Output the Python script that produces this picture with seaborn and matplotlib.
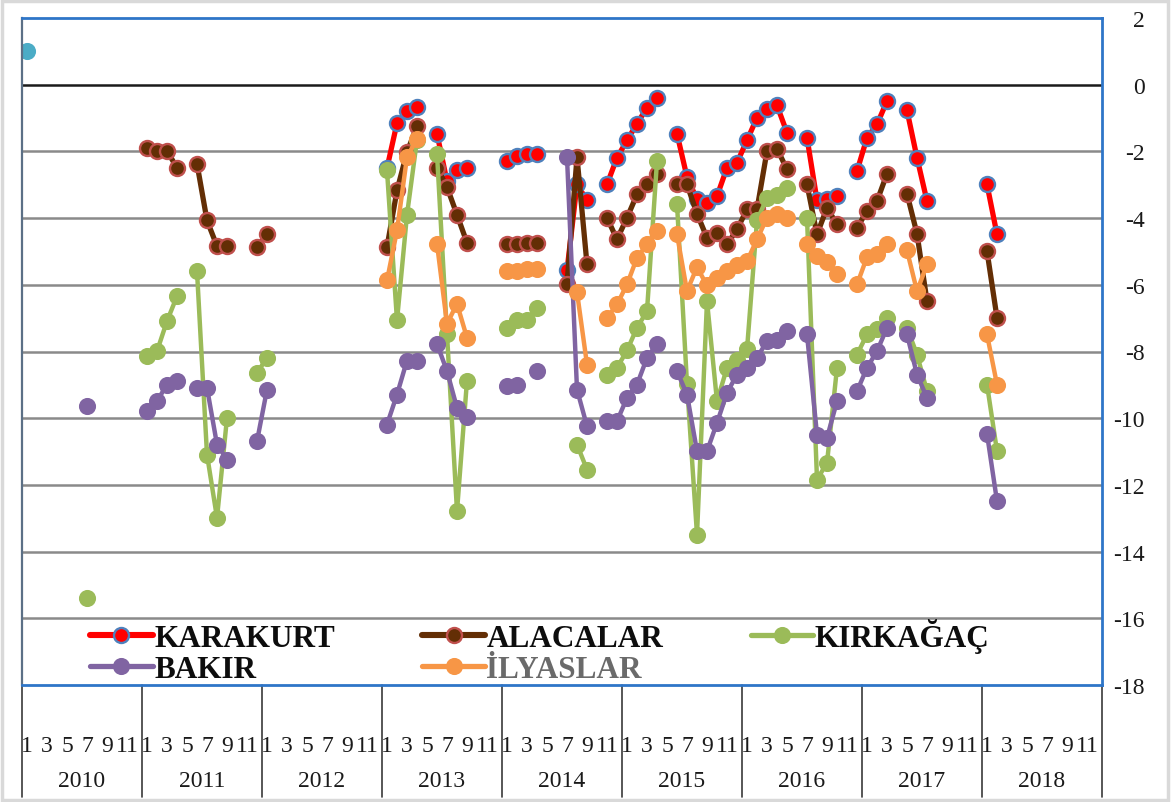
import numpy as np
import pandas as pd
import matplotlib
matplotlib.use("Agg")
import matplotlib.pyplot as plt
from matplotlib.lines import Line2D
from matplotlib.patches import Rectangle
from matplotlib.font_manager import FontProperties
import seaborn as sns

N = None

# Monthly series, 2010-2018 (12 values per year, None = no measurement)
years = [2010, 2011, 2012, 2013, 2014, 2015, 2016, 2017, 2018]
month_labels = ["1", "3", "5", "7", "9", "11"]

karakurt = [
    N, N, N, N, N, N, N, N, N, N, N, N,                                        # 2010
    N, N, N, N, N, N, N, N, N, N, N, N,                                        # 2011
    N, N, N, N, N, N, N, N, N, N, N, N,                                        # 2012
    -2.50, -1.15, -0.79, -0.67, N, -1.47, -2.90, -2.57, -2.49, N, N, N,        # 2013
    -2.29, -2.14, -2.07, -2.07, N, N, -5.57, -2.99, -3.47, N, -2.99, -2.19,    # 2014
    -1.67, -1.17, -0.69, -0.39, N, -1.47, -2.77, -3.44, -3.54, -3.34, -2.49, -2.34,  # 2015
    -1.67, -0.99, -0.74, -0.62, -1.44, N, -1.59, -3.47, -3.42, -3.34, N, -2.59,      # 2016
    -1.59, -1.19, -0.49, N, -0.77, -2.19, -3.49, N, N, N, N, N,               # 2017
    -2.99, -4.49, N, N, N, N, N, N, N, N, N, N,                                # 2018
]

alacalar = [
    N, N, N, N, N, N, N, N, N, N, N, N,
    -1.89, -1.99, -1.99, -2.49, N, -2.37, -4.07, -4.84, -4.84, N, N, -4.87,
    -4.49, N, N, N, N, N, N, N, N, N, N, N,
    -4.87, -3.17, -2.02, -1.25, N, -2.49, -3.07, -3.90, -4.74, N, N, N,
    -4.77, -4.78, -4.74, -4.74, N, N, -5.99, -2.17, -5.39, N, -3.99, -4.64,
    -3.99, -3.29, -2.97, -2.67, N, -2.99, -2.99, -3.87, -4.59, -4.44, -4.79, -4.34,
    -3.74, -3.74, -1.99, -1.92, -2.54, N, -2.99, -4.49, -3.69, -4.19, N, -4.29,
    -3.79, -3.49, -2.67, N, -3.27, -4.47, -6.49, N, N, N, N, N,
    -4.99, -6.99, N, N, N, N, N, N, N, N, N, N,
]

kirkagac = [
    N, N, N, N, N, N, -15.39, N, N, N, N, N,
    -8.14, -7.99, -7.09, -6.34, N, -5.59, -11.09, -12.99, -9.99, N, N, -8.64,
    -8.19, N, N, N, N, N, N, N, N, N, N, N,
    -2.57, -7.07, -3.90, -1.65, N, -2.07, -7.47, -12.79, -8.87, N, N, N,
    -7.29, -7.07, -7.07, -6.69, N, N, N, -10.79, -11.54, N, -8.69, -8.49,
    -7.97, -7.29, -6.79, -2.29, N, -3.57, -8.97, -13.49, -6.49, -9.49, -8.49, -8.24,
    -7.94, -4.07, -3.39, -3.32, -3.09, N, -3.99, -11.84, -11.34, -8.49, N, -8.09,
    -7.49, -7.34, -6.99, N, -7.29, -8.09, -9.19, N, N, N, N, N,
    -8.99, -10.99, N, N, N, N, N, N, N, N, N, N,
]

bakir = [
    N, N, N, N, N, N, -9.64, N, N, N, N, N,
    -9.79, -9.49, -8.99, -8.89, N, -9.09, -9.09, -10.79, -11.24, N, N, -10.69,
    -9.14, N, N, N, N, N, N, N, N, N, N, N,
    -10.19, -9.29, -8.27, -8.27, N, -7.77, -8.59, -9.69, -9.97, N, N, N,
    -9.04, -8.99, N, -8.59, N, N, -2.17, -9.14, -10.24, N, -10.09, -10.09,
    -9.39, -8.99, -8.19, -7.77, N, -8.59, -9.29, -10.99, -10.99, -10.14, -9.24, -8.69,
    -8.49, -8.19, -7.69, -7.67, -7.39, N, -7.49, -10.49, -10.59, -9.49, N, -9.19,
    -8.49, -7.99, -7.29, N, -7.49, -8.69, -9.39, N, N, N, N, N,
    -10.47, -12.49, N, N, N, N, N, N, N, N, N, N,
]

ilyaslar = [
    N, N, N, N, N, N, N, N, N, N, N, N,
    N, N, N, N, N, N, N, N, N, N, N, N,
    N, N, N, N, N, N, N, N, N, N, N, N,
    -5.87, -4.37, -2.17, -1.62, N, -4.77, -7.17, -6.57, -7.59, N, N, N,
    -5.59, -5.59, -5.54, -5.54, N, N, N, -6.22, -8.39, N, -6.99, -6.59,
    -5.99, -5.19, -4.79, -4.39, N, -4.49, -6.19, -5.47, -6.02, -5.79, -5.59, -5.42,
    -5.29, -4.64, -3.99, -3.89, -3.99, N, -4.79, -5.14, -5.32, -5.69, N, -5.99,
    -5.17, -5.09, -4.77, N, -4.97, -6.19, -5.39, N, N, N, N, N,
    -7.49, -8.99, N, N, N, N, N, N, N, N, N, N,
]

reference_point = [1.02] + [N] * 107

series = [
    ("KARAKURT", karakurt, dict(color="#FF0000", mfc="#FF0000", mec="#4F81BD", lw=3.8, ms=10.8, mew=1.7)),
    ("ALACALAR", alacalar, dict(color="#632E05", mfc="#632E05", mec="#C0504D", lw=3.8, ms=10.8, mew=1.7)),
    ("KIRKAĞAÇ", kirkagac, dict(color="#9BBB59", mfc="#9BBB59", mec="#9BBB59", lw=3.2, ms=11.3, mew=1.0)),
    ("BAKIR", bakir, dict(color="#8064A2", mfc="#8064A2", mec="#8064A2", lw=3.2, ms=11.3, mew=1.0)),
    ("İLYASLAR", ilyaslar, dict(color="#F79646", mfc="#F79646", mec="#F79646", lw=3.2, ms=11.3, mew=1.0)),
]


def to_frame(values):
    v = np.array([np.nan if x is None else x for x in values], dtype=float)
    ok = ~np.isnan(v)
    seg = np.cumsum(~ok)  # a new run starts after every gap
    return pd.DataFrame({"t": np.arange(len(v))[ok], "v": v[ok], "seg": seg[ok]})


sns.set_style("white")
plt.rcParams["font.family"] = ["Liberation Serif", "DejaVu Serif"]
plt.rcParams["axes.unicode_minus"] = False

W, H = 1172, 803
fig = plt.figure(figsize=(W / 100, H / 100), dpi=100)
x0, x1, ytop, ybot = 22, 1102, 19, 686
ax = fig.add_axes([x0 / W, 1 - ybot / H, (x1 - x0) / W, (ybot - ytop) / H])

n = 12 * len(years)
ax.set_xlim(-0.5, n - 0.5)
ax.set_ylim(-18, 2)

# horizontal gridlines, zero line in black
for yv in range(-16, 0, 2):
    ax.axhline(yv, color="#8A8A8A", lw=1.8, zorder=0)
ax.axhline(0, color="#1A1A1A", lw=1.8, zorder=0.5)

# extra single point drawn in teal
dref = to_frame(reference_point)
sns.lineplot(data=dref, x="t", y="v", units="seg", estimator=None, ax=ax,
             color="#4BACC6", marker="o", markersize=11.3, markerfacecolor="#4BACC6",
             markeredgecolor="#4BACC6", markeredgewidth=1.0, legend=False, zorder=2)

handles = []
for k, (name, vals, st) in enumerate(series):
    d = to_frame(vals)
    sns.lineplot(data=d, x="t", y="v", units="seg", estimator=None, sort=True, ax=ax,
                 color=st["color"], lw=st["lw"], marker="o", markersize=st["ms"],
                 markerfacecolor=st["mfc"], markeredgecolor=st["mec"],
                 markeredgewidth=st["mew"], legend=False, zorder=3 + k)
    handles.append(Line2D([], [], color=st["color"], lw=st["lw"] + 0.6, marker="o",
                          markersize=st["ms"], markerfacecolor=st["mfc"],
                          markeredgecolor=st["mec"], markeredgewidth=st["mew"], label=name))

ax.set_xlabel("")
ax.set_ylabel("")

# spines
for side in ["top", "right", "bottom"]:
    ax.spines[side].set_color("#2E75C8")
    ax.spines[side].set_linewidth(2.0)
ax.spines["left"].set_color("#5C7086")
ax.spines["left"].set_linewidth(1.6)
for sp in ax.spines.values():
    sp.set_zorder(10)

# value axis on the right
ax.yaxis.tick_right()
ax.set_yticks(list(range(-18, 3, 2)))
ax.set_yticklabels([str(v) for v in range(-18, 3, 2)])
ax.tick_params(axis="y", length=0, pad=31, labelsize=17, labelcolor="#1A1A1A")
plt.setp(ax.get_yticklabels(), ha="right")

# category axis: odd months in each year, then year labels
tick_pos = [12 * j + (int(m) - 1) for j in range(len(years)) for m in month_labels]
ax.set_xticks(tick_pos)
ax.set_xticklabels(month_labels * len(years))
ax.tick_params(axis="x", length=0, pad=36, labelsize=17, labelcolor="#1A1A1A")

trans = ax.get_xaxis_transform()
for j, yr in enumerate(years):
    ax.text(12 * j + 5.5, -0.143, str(yr), transform=trans, ha="center", va="center",
            fontsize=17, color="#1A1A1A")
for j in range(len(years) + 1):
    ax.add_line(Line2D([12 * j - 0.5, 12 * j - 0.5], [0, -0.168], transform=trans,
                       color="#3A3A3A", lw=1.2, clip_on=False))

# legend: rows KARAKURT / ALACALAR / KIRKAĞAÇ, then BAKIR / İLYASLAR
order = [0, 3, 1, 4, 2]
leg = ax.legend([handles[i] for i in order], [series[i][0] for i in order],
                ncol=3, loc="lower left", bbox_to_anchor=(0.037, -0.040),
                frameon=False, handlelength=2.0, handletextpad=0.05,
                columnspacing=2.8, labelspacing=0.05,
                prop=FontProperties(family="Liberation Serif", weight="bold", size=22.5))
for t in leg.get_texts():
    t.set_color("#0D0D0D")
    if t.get_text() == "İLYASLAR":
        t.set_color("#6A6A6A")
leg.set_zorder(20)

# chart area border
fig.patches.append(Rectangle((0.002, 0.003), 0.995, 0.994, transform=fig.transFigure,
                             fill=False, edgecolor="#D9D9D9", lw=2.5))

fig.savefig("out.png", dpi=100, facecolor="white")
